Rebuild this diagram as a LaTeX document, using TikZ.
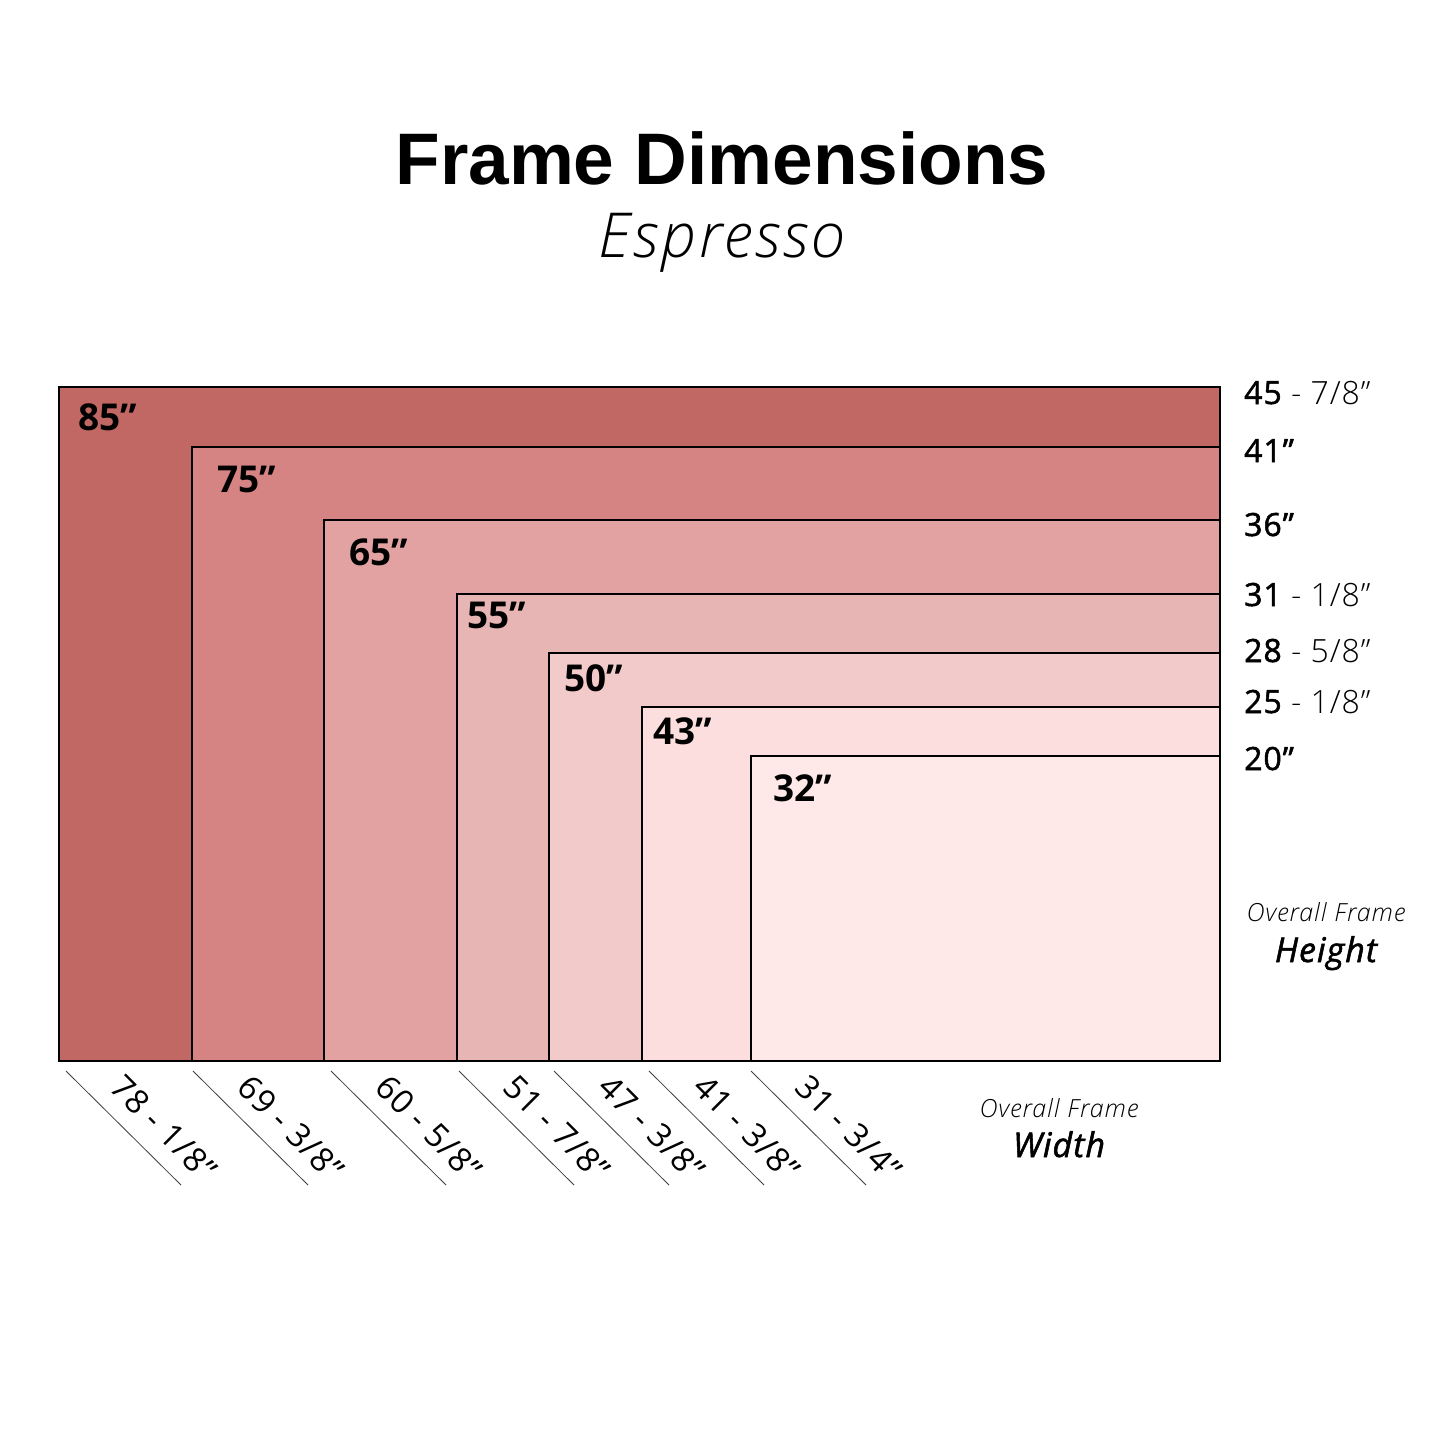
\documentclass[tikz,border=0pt]{standalone}
\usepackage{fontspec}
\setmainfont{Open Sans}
\newfontfamily\titlefont{Liberation Sans}
\newfontfamily\thinfont{Open Sans Light}[LetterSpace=5]
\newfontfamily\medfont{Open Sans}[FakeBold=1.6,LetterSpace=3]
\newfontfamily\regfont{Open Sans}[LetterSpace=3]
\newfontfamily\fracfont{Open Sans Light}[LetterSpace=3]
\newfontfamily\capfont{Open Sans Light}[LetterSpace=4]
\definecolor{c1}{HTML}{C16865}
\definecolor{c2}{HTML}{D68383}
\definecolor{c3}{HTML}{E1A2A1}
\definecolor{c4}{HTML}{E7B5B3}
\definecolor{c5}{HTML}{F3CACA}
\definecolor{c6}{HTML}{FDDEDE}
\definecolor{c7}{HTML}{FEE8E8}
\begin{document}
\begin{tikzpicture}[x=1pt,y=-1pt,
  framebox/.style={draw=black,line width=2pt},
  sizelabel/.style={anchor=base west,inner sep=0pt,font=\fontsize{37}{37}\selectfont\bfseries},
  hlabel/.style={anchor=base west,inner sep=0pt,font=\fontsize{32}{32}\selectfont},
  wlabel/.style={anchor=center,inner sep=0pt,rotate=-45,font=\regfont\fontsize{33}{33}\selectfont},
  tick/.style={draw=black!75,line width=0.8pt}]
\useasboundingbox (0,0) rectangle (1445,1445);
\fill[white] (0,0) rectangle (1445,1445);
% title
\node[anchor=base,inner sep=0pt,font=\titlefont\fontsize{73}{73}\selectfont\bfseries] (title) at (722,184) {Frame Dimensions};
\node[anchor=base,inner sep=0pt,font=\thinfont\fontsize{62}{62}\selectfont\itshape] (sub) at (722,257) {Espresso};
% frames
\draw[framebox,fill=c1] (59,387) rectangle (1220,1061);
\draw[framebox,fill=c2] (192,447) rectangle (1220,1061);
\draw[framebox,fill=c3] (324,520) rectangle (1220,1061);
\draw[framebox,fill=c4] (457,594) rectangle (1220,1061);
\draw[framebox,fill=c5] (549,653) rectangle (1220,1061);
\draw[framebox,fill=c6] (642,707) rectangle (1220,1061);
\draw[framebox,fill=c7] (751,756) rectangle (1220,1061);
% size labels inside
\node[sizelabel] (s85) at (78,430) {85”};
\node[sizelabel] (s75) at (217,492) {75”};
\node[sizelabel] (s65) at (349,565) {65”};
\node[sizelabel] (s55) at (467,628) {55”};
\node[sizelabel] (s50) at (564,691) {50”};
\node[sizelabel] (s43) at (653,744) {43”};
\node[sizelabel] (s32) at (773,801) {32”};
% heights
\node[hlabel] (h1) at (1244,404) {{\medfont 45}{\fracfont{} - 7/8”}};
\node[hlabel] (h2) at (1244,462) {\medfont 41”};
\node[hlabel] (h3) at (1244,536) {\medfont 36”};
\node[hlabel] (h4) at (1244,606) {{\medfont 31}{\fracfont{} - 1/8”}};
\node[hlabel] (h5) at (1244,662) {{\medfont 28}{\fracfont{} - 5/8”}};
\node[hlabel] (h6) at (1244,713) {{\medfont 25}{\fracfont{} - 1/8”}};
\node[hlabel] (h7) at (1244,770) {\medfont 20”};
% widths
\foreach \x/\t [count=\i] in {66/{78 - 1/8”},193/{69 - 3/8”},331/{60 - 5/8”},459/{51 - 7/8”},554/{47 - 3/8”},649/{41 - 3/8”},751/{31 - 3/4”}}{
  \coordinate (ta\i) at (\x,1071);
  \coordinate (tb\i) at (\x+115,1185);
  \draw[tick] (ta\i) -- (tb\i);
  \node[wlabel] (w\i) at (\x+98,1128) {\t};
}
% captions
\node[anchor=base,inner sep=0pt,font=\capfont\fontsize{25}{25}\selectfont\itshape] (oh) at (1326,921) {Overall Frame};
\node[anchor=base,inner sep=0pt,font=\medfont\fontsize{34}{34}\selectfont\itshape] (hh) at (1326,962) {Height};
\node[anchor=base,inner sep=0pt,font=\capfont\fontsize{25}{25}\selectfont\itshape] (ow) at (1059,1117) {Overall Frame};
\node[anchor=base,inner sep=0pt,font=\medfont\fontsize{34}{34}\selectfont\itshape] (ww) at (1059,1157) {Width};
\end{tikzpicture}
\end{document}
